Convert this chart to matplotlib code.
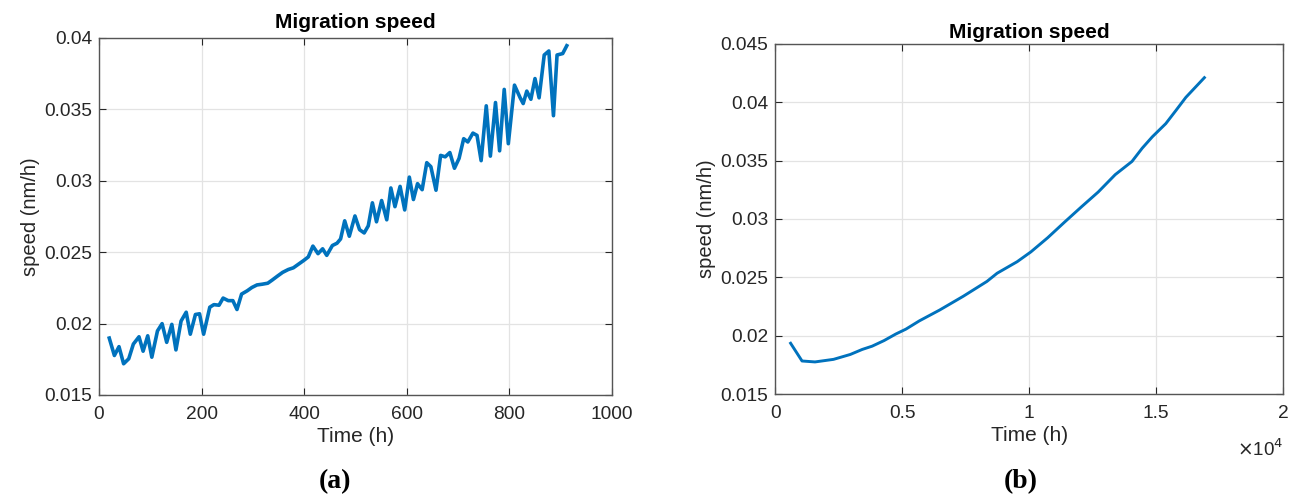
import matplotlib
matplotlib.use("Agg")
import matplotlib.pyplot as plt

# ---- data (a) ----
time_a = [20, 30, 39, 48, 58, 67, 78, 86, 95, 103, 114, 123, 132, 142, 150, 160, 170, 178,
          188, 196, 204, 216, 224, 234, 242, 252, 261, 269, 278, 289, 298, 308, 318, 329,
          338, 348, 358, 369, 379, 388, 399, 408, 417, 427, 436, 444, 455, 464, 471, 479,
          488, 499, 508, 517, 525, 533, 541, 551, 561, 569, 577, 587, 596, 605, 613, 621,
          630, 639, 647, 657, 666, 675, 684, 693, 702, 711, 719, 729, 737, 745, 755, 763,
          773, 781, 790, 798, 810, 821, 827, 834, 842, 850, 858, 868, 877, 886, 893, 904, 912]
speed_a = [0.01898, 0.01776, 0.01838, 0.01718, 0.01753, 0.01856, 0.01907, 0.01806, 0.01914,
           0.01764, 0.01948, 0.01999, 0.01868, 0.01994, 0.01815, 0.02017, 0.02079, 0.01925,
           0.02063, 0.02068, 0.01925, 0.02114, 0.02132, 0.02128, 0.02178, 0.02160, 0.02160,
           0.02098, 0.02206, 0.02229, 0.02252, 0.02270, 0.02275, 0.02282, 0.02305, 0.02332,
           0.02358, 0.02378, 0.02390, 0.02413, 0.02441, 0.02466, 0.02542, 0.02489, 0.02523,
           0.02477, 0.02546, 0.02562, 0.02592, 0.02719, 0.02611, 0.02753, 0.02657, 0.02634,
           0.02684, 0.02845, 0.02712, 0.02861, 0.02726, 0.02949, 0.02818, 0.02960, 0.02795,
           0.03025, 0.02868, 0.02979, 0.02937, 0.03126, 0.03098, 0.02933, 0.03177, 0.03167,
           0.03197, 0.03087, 0.03156, 0.03294, 0.03271, 0.03333, 0.03317, 0.03140, 0.03524,
           0.03172, 0.03547, 0.03209, 0.03639, 0.03259, 0.03669, 0.03581, 0.03540, 0.03627,
           0.03570, 0.03715, 0.03580, 0.03880, 0.03908, 0.03455, 0.03880, 0.03890, 0.03945]

# ---- data (b) ----
time_b = [610, 1060, 1570, 2300, 2960, 3430, 3820, 4290, 4750, 5150, 5680, 6480, 7410,
          8340, 8740, 9530, 10070, 10730, 11390, 12060, 12720, 13390, 14050, 14450, 14850,
          15380, 15780, 16170, 16900]
speed_b = [0.01935, 0.01783, 0.01775, 0.01797, 0.01839, 0.01882, 0.01910, 0.01958, 0.02014,
           0.02056, 0.02127, 0.02220, 0.02338, 0.02465, 0.02535, 0.02634, 0.02718, 0.02839,
           0.02972, 0.03104, 0.03231, 0.03380, 0.03493, 0.03606, 0.03704, 0.03817, 0.03930,
           0.04042, 0.04211]

xticks_a = [0, 200, 400, 600, 800, 1000]
yticks_a = [0.015, 0.02, 0.025, 0.03, 0.035, 0.04]
yticklabels_a = ["0.015", "0.02", "0.025", "0.03", "0.035", "0.04"]
xticks_b = [0, 5000, 10000, 15000, 20000]
xticklabels_b = ["0", "0.5", "1", "1.5", "2"]
yticks_b = [0.015, 0.02, 0.025, 0.03, 0.035, 0.04, 0.045]
yticklabels_b = ["0.015", "0.02", "0.025", "0.03", "0.035", "0.04", "0.045"]

plt.rcParams['font.family'] = ['Liberation Sans', 'DejaVu Sans']
LINE = '#0072BD'
TXT = '#262626'
GRID = '#e3e3e3'

fig = plt.figure(figsize=(12.94, 4.98), dpi=100)

def style(ax):
    for s in ax.spines.values():
        s.set_color('#555555')
        s.set_linewidth(1.0)
    ax.tick_params(direction='in', top=True, right=True, length=5, width=0.8,
                   colors=TXT, labelsize=13.8)
    ax.tick_params(axis='x', pad=8)
    ax.tick_params(axis='y', pad=5)
    ax.grid(True, color=GRID, linewidth=0.9)
    ax.set_axisbelow(True)

ax1 = fig.add_axes([0.0765, 0.207, 0.3964, 0.717])
ax1.plot(time_a, speed_a, color=LINE, linewidth=2.6)
ax1.set_xlim(0, 1000)
ax1.set_ylim(0.015, 0.04)
ax1.set_xticks(xticks_a)
ax1.set_yticks(yticks_a)
ax1.set_yticklabels(yticklabels_a)
style(ax1)
ax1.set_title("Migration speed", fontsize=15, fontweight='bold', color='black', pad=7)
ax1.set_xlabel("Time (h)", fontsize=15, color=TXT, labelpad=3)
ax1.set_ylabel("speed (nm/h)", fontsize=14.5, color=TXT, labelpad=3)

ax2 = fig.add_axes([0.599, 0.2088, 0.3926, 0.703])
ax2.plot(time_b, speed_b, color=LINE, linewidth=2.1)
ax2.set_xlim(0, 20000)
ax2.set_ylim(0.015, 0.045)
ax2.set_xticks(xticks_b)
ax2.set_xticklabels(xticklabels_b)
ax2.set_yticks(yticks_b)
ax2.set_yticklabels(yticklabels_b)
style(ax2)
ax2.set_title("Migration speed", fontsize=15, fontweight='bold', color='black', pad=4)
ax2.set_xlabel("Time (h)", fontsize=15, color=TXT, labelpad=3)
ax2.set_ylabel("speed (nm/h)", fontsize=14.5, color=TXT, labelpad=3)
ax2.text(1.0, -0.158, r"$\times$10$^4$", transform=ax2.transAxes, ha='right', va='center',
         fontsize=13.5, color=TXT)

fig.text(0.259, 0.032, "(a)", ha='center', va='center', fontsize=20, fontweight='bold',
         family=['Liberation Serif', 'DejaVu Serif'])
fig.text(0.789, 0.032, "(b)", ha='center', va='center', fontsize=20, fontweight='bold',
         family=['Liberation Serif', 'DejaVu Serif'])

fig.savefig("out.png", dpi=100)
